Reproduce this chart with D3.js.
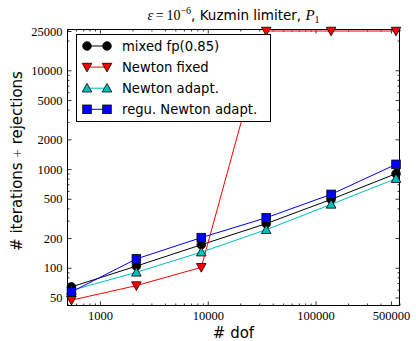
<!DOCTYPE html>
<html><head><meta charset="utf-8">
<script src="https://cdn.jsdelivr.net/npm/d3@7"></script>
<style>
body{margin:0;background:#fff;}
svg{display:block;}
</style></head>
<body><svg id="c" width="416" height="341"></svg>
<script>
// ---- data ----
const dofs = [544, 2176, 8704, 34816, 139264, 557056];
const mixedFp = [64, 104, 171, 280, 493, 898];
const newtonFixed = [47, 66, 101, 25000, 25000, 25000];
const newtonAdapt = [59, 90, 144, 243, 439, 800];
const reguNewton = [57, 123, 202, 321, 554, 1116];
const seriesNames = ["mixed fp(0.85)", "Newton fixed", "Newton adapt.", "regu. Newton adapt."];
const xTickVals = [1000, 10000, 100000, 500000];
const yTickVals = [50, 100, 200, 500, 1000, 2000, 5000, 10000, 25000];

const series = [
  {name: seriesNames[0], vals: mixedFp, color: "#000000", marker: "circle"},
  {name: seriesNames[1], vals: newtonFixed, color: "#ff0000", marker: "tridown"},
  {name: seriesNames[2], vals: newtonAdapt, color: "#00bfbf", marker: "triup"},
  {name: seriesNames[3], vals: reguNewton, color: "#0000ff", marker: "square"}
];

const L = 67.5, R = 399.5, T = 29.5, B = 305.5;
const svg = d3.select("#c");
const x = d3.scaleLog().domain([500, 600000]).range([L, R]);
const y = d3.scaleLog().domain([41.5, 25900]).range([B, T]);

function minorTicks(dom, majors) {
  const out = [];
  for (let e = 0; e <= 7; e++) {
    for (let d = 1; d <= 9; d++) {
      const v = d * Math.pow(10, e);
      if (v >= dom[0] && v <= dom[1] && !majors.includes(v)) out.push(v);
    }
  }
  return out;
}
const xMinor = minorTicks(x.domain(), xTickVals);
const yMinor = minorTicks(y.domain(), yTickVals);

const serif = "'Liberation Serif', 'DejaVu Serif', serif";
const sans = "'DejaVu Sans', sans-serif";

function styleAxis(g) {
  g.select(".domain").remove();
  g.selectAll(".tick line").attr("stroke", "#000").attr("stroke-width", 0.8);
  g.selectAll(".tick text").attr("font-family", serif).attr("font-size", 12.5).attr("fill", "#000");
}

// bottom
svg.append("g").attr("transform", `translate(0,${B})`)
  .call(d3.axisBottom(x).tickValues(xTickVals).tickFormat(d3.format("d")).tickSize(-4).tickPadding(6)).call(styleAxis);
svg.append("g").attr("transform", `translate(0,${B})`)
  .call(d3.axisBottom(x).tickValues(xMinor).tickFormat("").tickSize(-2)).call(styleAxis);
// top
svg.append("g").attr("transform", `translate(0,${T})`)
  .call(d3.axisTop(x).tickValues(xTickVals).tickFormat("").tickSize(-4)).call(styleAxis);
svg.append("g").attr("transform", `translate(0,${T})`)
  .call(d3.axisTop(x).tickValues(xMinor).tickFormat("").tickSize(-2)).call(styleAxis);
// left
svg.append("g").attr("transform", `translate(${L},0)`)
  .call(d3.axisLeft(y).tickValues(yTickVals).tickFormat(d3.format("d")).tickSize(-4).tickPadding(5)).call(styleAxis);
svg.append("g").attr("transform", `translate(${L},0)`)
  .call(d3.axisLeft(y).tickValues(yMinor).tickFormat("").tickSize(-2)).call(styleAxis);
// right
svg.append("g").attr("transform", `translate(${R},0)`)
  .call(d3.axisRight(y).tickValues(yTickVals).tickFormat("").tickSize(-4)).call(styleAxis);
svg.append("g").attr("transform", `translate(${R},0)`)
  .call(d3.axisRight(y).tickValues(yMinor).tickFormat("").tickSize(-2)).call(styleAxis);

// frame
svg.append("rect").attr("x", L).attr("y", T).attr("width", R - L).attr("height", B - T)
  .attr("fill", "none").attr("stroke", "#000").attr("stroke-width", 1);

// marker drawing
function drawMarker(g, type, cx, cy, color) {
  const s = 4.3;
  let el;
  if (type === "circle") el = g.append("circle").attr("cx", cx).attr("cy", cy).attr("r", s);
  else if (type === "square") el = g.append("rect").attr("x", cx - s).attr("y", cy - s).attr("width", 2 * s).attr("height", 2 * s);
  else if (type === "triup") el = g.append("path").attr("d", `M${cx},${cy - s - 0.5}L${cx + s + 0.5},${cy + s - 0.5}L${cx - s - 0.5},${cy + s - 0.5}Z`);
  else el = g.append("path").attr("d", `M${cx},${cy + s + 0.5}L${cx + s + 0.5},${cy - s + 0.5}L${cx - s - 0.5},${cy - s + 0.5}Z`);
  el.attr("fill", color).attr("stroke", "#000").attr("stroke-width", 0.8);
}

const line = d3.line().x((d, i) => x(dofs[i])).y(d => y(d));
const plotG = svg.append("g");
series.forEach(s => {
  plotG.append("path").datum(s.vals).attr("d", line).attr("fill", "none")
    .attr("stroke", s.color).attr("stroke-width", 1);
});
series.forEach(s => {
  s.vals.forEach((v, i) => drawMarker(plotG, s.marker, x(dofs[i]), y(v), s.color));
});

// legend
const lg = svg.append("g");
lg.append("rect").attr("x", 76.5).attr("y", 34.5).attr("width", 194).attr("height", 87)
  .attr("fill", "#fff").attr("stroke", "#000").attr("stroke-width", 1);
series.forEach((s, i) => {
  const yy = 46 + i * 21.1;
  lg.append("line").attr("x1", 87).attr("x2", 107).attr("y1", yy).attr("y2", yy)
    .attr("stroke", s.color).attr("stroke-width", 1);
  drawMarker(lg, s.marker, 87, yy, s.color);
  drawMarker(lg, s.marker, 107, yy, s.color);
  lg.append("text").attr("x", 122).attr("y", yy + 4.6).attr("font-family", sans)
    .attr("font-size", 13.2).attr("fill", "#000").text(s.name);
});

// title
const t = svg.append("text").attr("x", 233.5).attr("y", 20).attr("text-anchor", "middle")
  .attr("font-family", sans).attr("font-size", 13.5).attr("fill", "#000");
t.append("tspan").attr("font-family", serif).attr("font-style", "italic").attr("font-size", 14).text("ε");
t.append("tspan").attr("font-family", serif).attr("font-size", 14).text("\u2009=\u200910");
t.append("tspan").attr("font-family", serif).attr("font-size", 10).attr("dy", -6).text("−6");
t.append("tspan").attr("dy", 6).text(", Kuzmin limiter, ");
t.append("tspan").attr("font-family", serif).attr("font-style", "italic").attr("font-size", 15).text("P");
t.append("tspan").attr("font-family", serif).attr("font-size", 10).attr("dy", 3).text("1");

// axis labels
svg.append("text").attr("x", 233.5).attr("y", 338).attr("text-anchor", "middle")
  .attr("font-family", sans).attr("font-size", 15).attr("fill", "#000").text("# dof");
const yl = svg.append("text").attr("transform", "translate(22,161) rotate(-90)").attr("text-anchor", "middle")
  .attr("font-family", sans).attr("font-size", 15).attr("fill", "#000");
yl.append("tspan").text("# iterations ");
yl.append("tspan").attr("font-family", serif).attr("fill", "#444").text("+");
yl.append("tspan").text(" rejections");
</script></body></html>
